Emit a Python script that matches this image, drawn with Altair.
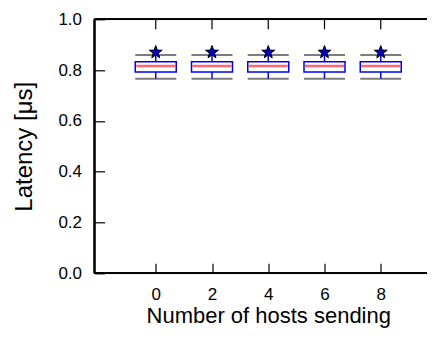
import altair as alt
import pandas as pd

# Data
hosts = [0, 2, 4, 6, 8]
whisker_low = [0.766, 0.766, 0.766, 0.766, 0.766]
q1 = [0.793, 0.793, 0.793, 0.793, 0.793]
median = [0.816, 0.816, 0.816, 0.816, 0.816]
q3 = [0.833, 0.833, 0.833, 0.833, 0.833]
whisker_high = [0.859, 0.859, 0.859, 0.859, 0.859]
mean_star = [0.870, 0.870, 0.870, 0.870, 0.870]

x_ticks = [0, 2, 4, 6, 8]
y_ticks = [0.0, 0.2, 0.4, 0.6, 0.8, 1.0]

df = pd.DataFrame({
    "hosts": hosts, "lo": whisker_low, "q1": q1, "med": median,
    "q3": q3, "hi": whisker_high, "star": mean_star,
})
xt = pd.DataFrame({"x": x_ticks})
yt = pd.DataFrame({"y": y_ticks[1:-1]})

FULL_W = 347.5          # full x-range of the axes (extends past the window)
W, H = 332.5, 254       # visible view
FONT = "Liberation Sans"
FS_LAB = 17
FS_TIT = 22
FS_YTIT = 24
BOXW = 41

xs = alt.Scale(domain=[-2, 10], range=[0, FULL_W], nice=False, zero=False)
ys = alt.Scale(domain=[0, 1], nice=False, zero=False)

xaxis = alt.Axis(values=x_ticks, format="d", title="Number of hosts sending",
                 offset=-10, tickSize=10, domain=False, grid=False,
                 labelPadding=13, titlePadding=3, tickColor="black",
                 tickWidth=1.2, labelFont=FONT, titleFont=FONT,
                 labelFontSize=FS_LAB, titleFontSize=FS_TIT, labelColor="black",
                 titleColor="black", titleFontWeight="normal", labelFlush=False)
yaxis = alt.Axis(values=y_ticks, format=".1f", title="Latency [μs]",
                 offset=-10, tickSize=10, domain=False, grid=False,
                 labelPadding=13, titlePadding=21, tickColor="black",
                 tickWidth=1.2, labelFont=FONT, titleFont=FONT,
                 labelFontSize=FS_LAB, titleFontSize=FS_YTIT, labelColor="black",
                 titleColor="black", titleFontWeight="normal", labelFlush=False)

base = alt.Chart(df)

whisker = base.mark_rule(color="#0000ff", strokeWidth=1.5).encode(
    x=alt.X("hosts:Q", scale=xs, axis=xaxis),
    y=alt.Y("lo:Q", scale=ys, axis=yaxis),
    y2="hi:Q",
)
box = base.mark_bar(size=BOXW, fill="white", stroke="#0000ff", strokeWidth=1.5).encode(
    x=alt.X("hosts:Q", scale=xs), y=alt.Y("q1:Q", scale=ys), y2="q3:Q"
)
med = base.mark_tick(orient="horizontal", size=BOXW - 2, thickness=2.5, color="#ff2a2a").encode(
    x=alt.X("hosts:Q", scale=xs), y=alt.Y("med:Q", scale=ys)
)
cap_hi = base.mark_tick(orient="horizontal", size=BOXW, thickness=2, color="#444444").encode(
    x=alt.X("hosts:Q", scale=xs), y=alt.Y("hi:Q", scale=ys)
)
cap_lo = base.mark_tick(orient="horizontal", size=BOXW, thickness=2, color="#444444").encode(
    x=alt.X("hosts:Q", scale=xs), y=alt.Y("lo:Q", scale=ys)
)
STAR = ("M0,-1L0.235,-0.324L0.951,-0.309L0.38,0.124L0.588,0.809L0,0.4"
        "L-0.588,0.809L-0.38,0.124L-0.951,-0.309L-0.235,-0.324Z")
star = base.mark_point(shape=STAR, size=185, filled=True, fill="#0000c8",
                       stroke="black", strokeWidth=1, opacity=1).encode(
    x=alt.X("hosts:Q", scale=xs), y=alt.Y("star:Q", scale=ys)
)

top_ticks = alt.Chart(xt).mark_rule(color="black", strokeWidth=1.2).encode(
    x=alt.X("x:Q", scale=xs), y=alt.value(0), y2=alt.value(10)
)
right_ticks = alt.Chart(yt).mark_rule(color="black", strokeWidth=1.2).encode(
    y=alt.Y("y:Q", scale=ys), x=alt.value(FULL_W - 10), x2=alt.value(FULL_W)
)
# axes frame (left, top, bottom; right edge lies outside the window)
frame_left = alt.Chart(xt).mark_rule(color="black", strokeWidth=1.5).encode(
    x=alt.value(0), y=alt.value(0), y2=alt.value(H)
)
frame_top = alt.Chart(xt).mark_rule(color="black", strokeWidth=1.5).encode(
    x=alt.value(0), x2=alt.value(FULL_W), y=alt.value(0)
)
frame_bottom = alt.Chart(xt).mark_rule(color="black", strokeWidth=1.5).encode(
    x=alt.value(0), x2=alt.value(FULL_W), y=alt.value(H)
)

chart = alt.layer(whisker, box, med, cap_hi, cap_lo, star, top_ticks, right_ticks,
                  frame_left, frame_top, frame_bottom).properties(
    width=W, height=H,
    autosize=alt.AutoSizeParams(type="none"),
    padding={"left": 86.5, "top": 11.3, "right": 0, "bottom": 72},
).configure_view(stroke=None).configure(background="white")

chart.save("out.html", embed_options={"renderer": "svg", "actions": False})
